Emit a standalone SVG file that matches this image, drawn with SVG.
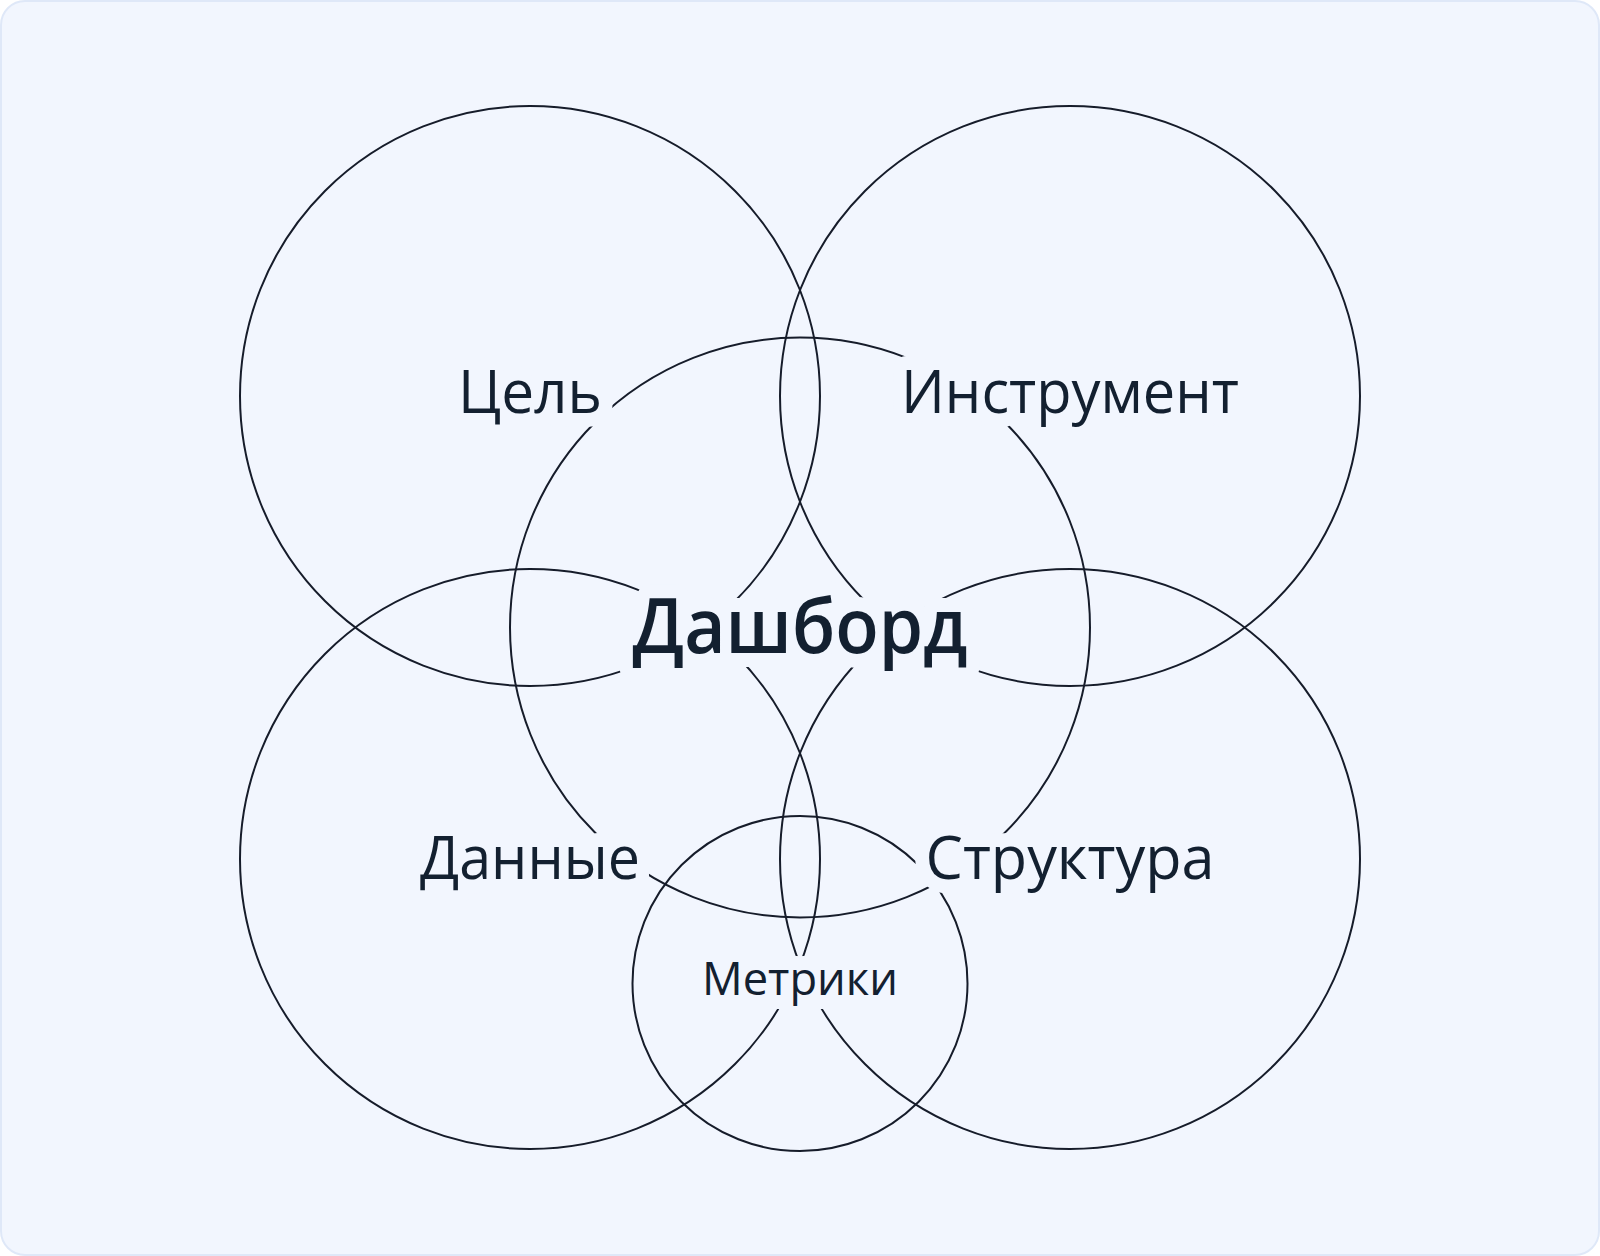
<svg xmlns="http://www.w3.org/2000/svg" width="1600" height="1256" viewBox="0 0 1600 1256">
  <style>
    .ring { fill: none; stroke: #161c2a; stroke-width: 2; }
    .lbl { font-family: "Open Sans", "Noto Sans", "DejaVu Sans", sans-serif; fill: #132030; text-anchor: middle; stroke: #f2f6fe; stroke-width: 28; stroke-linejoin: round; paint-order: stroke; }
    .big { font-size: 60px; }
    .main { font-size: 76px; font-weight: 600; }
    .small { font-size: 45px; }
  </style>
  <rect x="0" y="0" width="1600" height="1256" fill="#ffffff"/>
  <rect x="1" y="1" width="1598" height="1254" rx="24" ry="24" fill="#f2f6fe" stroke="#dfe8f8" stroke-width="2"/>
  <g id="nodes">
    <g id="node-goal"><circle class="ring" cx="530" cy="396" r="290"/></g>
    <g id="node-tool"><circle class="ring" cx="1070" cy="396" r="290"/></g>
    <g id="node-data"><circle class="ring" cx="530" cy="859" r="290"/></g>
    <g id="node-structure"><circle class="ring" cx="1070" cy="859" r="290"/></g>
    <g id="node-dashboard"><circle class="ring" cx="800" cy="627.5" r="290"/></g>
    <g id="node-metrics"><circle class="ring" cx="800" cy="983.5" r="167.5"/></g>
  </g>
  <g id="connectors"></g>
  <g id="labels">
    <text id="label-goal" class="lbl big" x="530" y="413" textLength="144" lengthAdjust="spacingAndGlyphs">Цель</text>
    <text id="label-tool" class="lbl big" x="1070" y="413" textLength="338" lengthAdjust="spacingAndGlyphs">Инструмент</text>
    <text id="label-data" class="lbl big" x="530" y="879" textLength="220" lengthAdjust="spacingAndGlyphs">Данные</text>
    <text id="label-structure" class="lbl big" x="1070" y="879" textLength="289" lengthAdjust="spacingAndGlyphs">Структура</text>
    <text id="label-dashboard" class="lbl main" x="800" y="653" textLength="335" lengthAdjust="spacingAndGlyphs">Дашборд</text>
    <text id="label-metrics" class="lbl small" x="800" y="995" textLength="196" lengthAdjust="spacingAndGlyphs">Метрики</text>
  </g>
</svg>
